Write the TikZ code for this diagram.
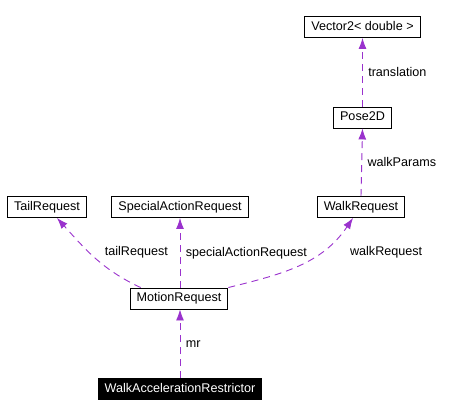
\documentclass[tikz,border=0pt]{standalone}
\usepackage{fontspec}
\setmainfont{Liberation Sans}
\usetikzlibrary{arrows.meta}
\definecolor{edgepurple}{RGB}{154,50,205}

\begin{document}
\begin{tikzpicture}[x=1pt, y=-1pt, >={Latex[length=11pt, width=8pt]},
    cls/.style={draw, line width=.9pt, inner xsep=6.5pt, minimum height=21pt, text height=9pt, text depth=2.5pt, font=\fontsize{12.6}{14}\selectfont},
    rel/.style={->, draw=edgepurple, dash pattern=on 7pt off 5pt, line width=.9pt},
    lbl/.style={font=\fontsize{12.6}{14}\selectfont}]
    \useasboundingbox(0, 0) rectangle (452, 417);
    \node[cls](vec) at(362.5, 27){Vector2< double >};
    \node[cls](pose) at(362.5, 117.5){Pose2D};
    \node[cls](walk) at(361, 207){WalkRequest};
    \node[cls](tail) at(47, 207){TailRequest};
    \node[cls](special) at(180, 207){SpecialActionRequest};
    \node[cls](motion) at(179, 298.5){MotionRequest};
    \node[cls, fill=black, text=white](restrictor) at(180, 389){WalkAccelerationRestrictor};
    \draw[rel](restrictor.north-|180, 0)--(motion.south-|180, 0)node[lbl, midway, right, xshift=2pt]{mr};
    \draw[rel]([xshift=11pt]motion.north west) to[out=155, in=-48]node[lbl, pos=.5, anchor=west, xshift=6pt, yshift=6pt]{tailRequest}([xshift=10pt]tail.south);
    \draw[rel](motion.north-|180, 0)--(special.south-|180, 0)node[lbl, midway, right, xshift=2pt]{specialActionRequest};
    \draw[rel](motion.north east) to[out=14, in=-124]node[lbl, pos=.5, anchor=west, xshift=47pt, yshift=13pt]{walkRequest}([xshift=-8pt]walk.south);
    \draw[rel](walk.north)--(pose.south)node[lbl, midway, right, xshift=2pt]{walkParams};
    \draw[rel](pose.north)--(vec.south)node[lbl, midway, right, xshift=2pt]{translation};
\end{tikzpicture}
\end{document}
